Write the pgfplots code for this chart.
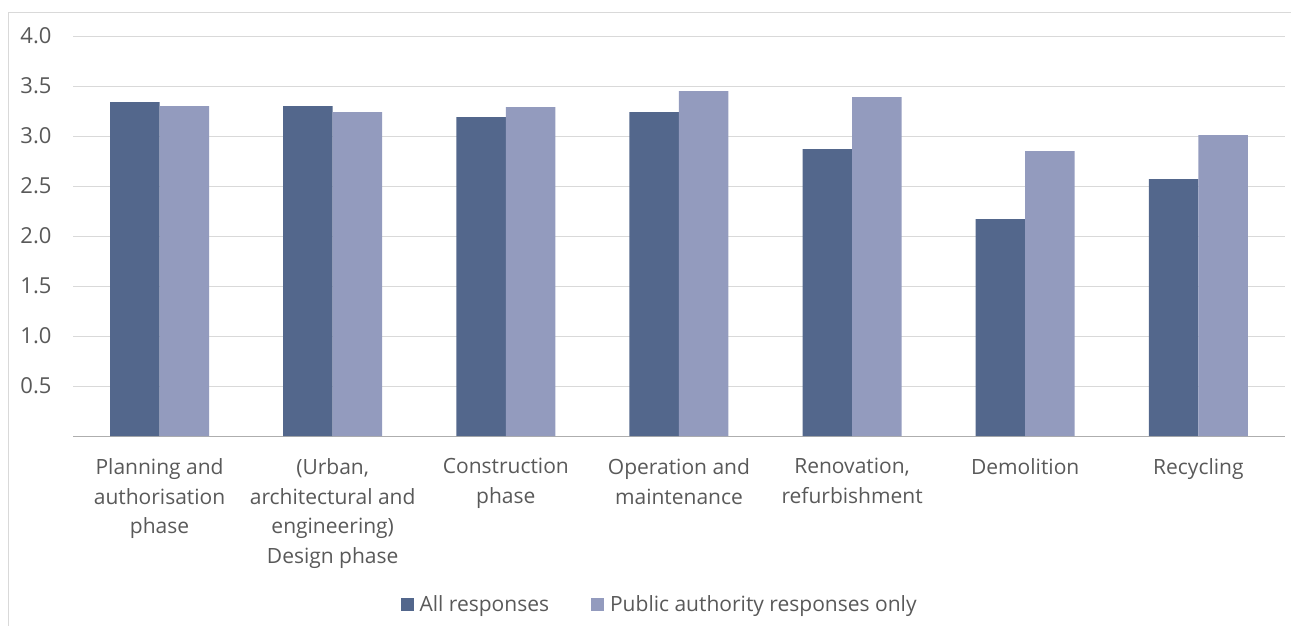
\documentclass[border=0pt]{standalone}
\usepackage{fontspec}
\setmainfont{Open Sans}
\usepackage{pgfplots}
\pgfplotsset{compat=1.18}
\definecolor{allresp}{RGB}{83,103,140}
\definecolor{pubresp}{RGB}{147,155,190}
\definecolor{txtgray}{RGB}{89,89,89}
\definecolor{gridgray}{RGB}{217,217,217}
\definecolor{framegray}{RGB}{217,217,217}
\newcommand\chartfont{\fontsize{21bp}{29.7bp}\selectfont}
\newcommand\tickfont{\fontsize{22bp}{26bp}\selectfont}

\pgfplotstableread{
x all pub
0 3.34 3.30
1 3.30 3.24
2 3.19 3.29
3 3.24 3.45
4 2.87 3.39
5 2.17 2.85
6 2.57 3.01
}\phasedata

\begin{document}
\begin{tikzpicture}
\useasboundingbox (0,0) rectangle (1291bp,-626bp);
\draw[framegray, line width=1bp] (8bp,-12bp) rectangle (1320bp,-660bp);
\begin{axis}[
  at={(73bp,-436bp)}, anchor=south west,
  scale only axis, width=1212bp, height=400bp,
  ymin=0, ymax=4, xmin=-0.5, xmax=6.5,
  ybar=0pt, bar width=49.5bp,
  ytick={0.5,1.0,1.5,2.0,2.5,3.0,3.5,4.0},
  yticklabel style={/pgf/number format/fixed, /pgf/number format/fixed zerofill,
    /pgf/number format/precision=1, /pgf/number format/assume math mode=true,
    text=txtgray, font=\tickfont, xshift=-18bp},
  ymajorgrids, grid style={gridgray, line width=1bp},
  axis lines*=left,
  y axis line style={draw=none},
  x axis line style={draw=gridgray!80!black, line width=1bp, -},
  major tick length=0pt,
  xtick={0,...,6},
  xticklabels={{Planning and\\authorisation\\phase},
               {(Urban,\\architectural and\\engineering)\\Design phase},
               {Construction\\phase},
               {Operation and\\maintenance},
               {Renovation,\\refurbishment},
               {Demolition},
               {Recycling}},
  xticklabel style={align=center, text=txtgray, font=\chartfont, yshift=-19bp},
  legend style={at={(0.484,-0.42)}, anchor=center, draw=none, fill=none,
    legend columns=2, font=\chartfont, text=txtgray,
    /tikz/every even column/.append style={column sep=40bp}},
]
\addplot[fill=allresp, draw=none,
  legend image code/.code={\fill[allresp] (0bp,-6.5bp) rectangle (13bp,6.5bp);
    \path (17bp,0bp);}]
  table[x=x, y=all] {\phasedata};
\addlegendentry{All responses}
\addplot[fill=pubresp, draw=none,
  legend image code/.code={\fill[pubresp] (0bp,-6.5bp) rectangle (13bp,6.5bp);
    \path (17bp,0bp);}]
  table[x=x, y=pub] {\phasedata};
\addlegendentry{Public authority responses only}
\end{axis}
\end{tikzpicture}
\end{document}
